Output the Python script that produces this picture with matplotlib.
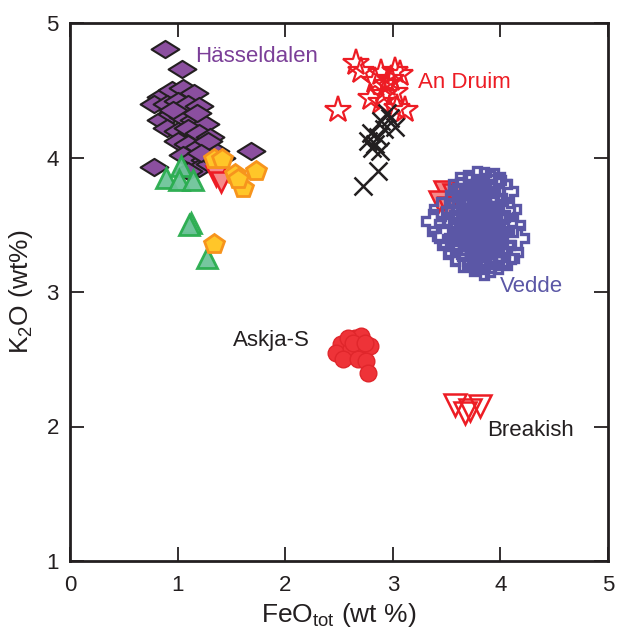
import matplotlib
matplotlib.use("Agg")
import matplotlib.pyplot as plt
from matplotlib.path import Path

plt.rcParams['font.family'] = ['Liberation Sans', 'DejaVu Sans']

# Hässeldalen (purple diamonds)
hass_feo = [0.88, 1.04, 0.85, 0.95, 1.05, 1.15, 0.78, 0.90, 1.00, 1.10, 1.20, 0.85, 0.95, 1.05,
            1.15, 1.25, 0.90, 1.00, 1.10, 1.20, 1.30, 1.00, 1.10, 1.20, 1.35, 1.05, 1.15, 1.25,
            1.40, 1.68, 0.78, 1.20, 1.30, 1.10, 0.96, 1.18, 1.28, 1.33, 1.22]
hass_k2o = [4.81, 4.66, 4.45, 4.50, 4.52, 4.48, 4.40, 4.40, 4.42, 4.40, 4.38, 4.28, 4.32, 4.30,
            4.28, 4.25, 4.22, 4.20, 4.22, 4.18, 4.15, 4.12, 4.10, 4.08, 4.05, 4.02, 4.00, 3.98,
            4.00, 4.05, 3.93, 3.92, 3.95, 3.90, 4.35, 4.33, 4.12, 4.00, 4.03]

# green triangles
grn_feo = [1.03, 0.89, 1.01, 1.14, 1.12, 1.11, 1.27]
grn_k2o = [3.94, 3.85, 3.83, 3.83, 3.51, 3.50, 3.25]

# red inverted triangles (filled) near Hässeldalen
rtri_h_feo = [1.36, 1.40]
rtri_h_k2o = [3.86, 3.82]

# orange pentagons
pent_feo = [1.34, 1.41, 1.53, 1.73, 1.61, 1.56, 1.34]
pent_k2o = [3.99, 3.99, 3.88, 3.90, 3.77, 3.84, 3.36]

# An Druim (red stars)
andr_feo = [2.66, 2.70, 2.49, 2.89, 3.02, 3.07, 2.83, 2.95, 2.80, 2.92, 3.02, 2.89, 3.11, 3.04, 2.98]
andr_k2o = [4.70, 4.64, 4.35, 4.63, 4.64, 4.62, 4.57, 4.55, 4.44, 4.47, 4.49, 4.41, 4.35, 4.37, 4.58]

# black crosses
blk_feo = [2.95, 3.02, 2.89, 2.80, 2.86, 2.81, 2.77, 2.92, 2.86, 2.72, 2.97, 2.88, 2.83]
blk_k2o = [4.33, 4.23, 4.27, 4.18, 4.15, 4.07, 4.12, 4.21, 3.90, 3.79, 4.29, 4.05, 4.10]

# red inverted triangles (filled) near Vedde
rtri_v_feo = [3.48, 3.43, 3.56, 3.86, 3.51]
rtri_v_k2o = [3.75, 3.68, 3.73, 3.69, 3.63]

# Vedde (blue hollow pluses)
vedde_feo = [3.37, 3.43, 3.45, 3.62, 3.62, 3.70, 3.78, 3.85, 3.90, 3.94, 4.00, 4.05, 4.08, 4.12,
             4.15, 4.10, 4.06, 3.98, 3.90, 3.85, 3.75, 3.65, 3.58, 3.52, 3.48, 3.60, 3.95,
             3.60, 3.65, 3.70, 3.75, 3.80, 3.85, 3.90, 3.62, 3.68, 3.72, 3.78, 3.83, 3.88, 3.92,
             3.96, 3.85, 3.80, 3.75, 3.70, 3.66, 3.58, 3.60, 3.64, 3.70, 3.76, 3.82, 3.86, 3.90,
             3.95, 4.00, 4.02, 3.98, 3.93, 3.88, 3.84, 3.78, 3.74, 3.72, 3.68, 3.64, 3.56, 3.80,
             3.88, 3.92, 4.02, 4.04, 3.82, 3.76, 3.70, 3.86, 3.80, 3.94, 3.60, 3.66, 3.92, 3.84,
             3.76, 3.73, 3.79, 3.87, 3.81, 3.77, 3.71, 3.89, 3.67, 3.63, 3.97, 3.83, 3.74]
vedde_k2o = [3.53, 3.45, 3.62, 3.76, 3.80, 3.82, 3.85, 3.84, 3.82, 3.83, 3.80, 3.75, 3.62, 3.50,
             3.40, 3.30, 3.25, 3.22, 3.20, 3.18, 3.21, 3.24, 3.28, 3.35, 3.42, 3.72, 3.70,
             3.60, 3.55, 3.50, 3.45, 3.40, 3.35, 3.30, 3.45, 3.40, 3.35, 3.30, 3.28, 3.45, 3.50,
             3.55, 3.60, 3.65, 3.68, 3.62, 3.66, 3.52, 3.38, 3.32, 3.28, 3.38, 3.48, 3.52, 3.58,
             3.42, 3.45, 3.35, 3.30, 3.38, 3.40, 3.43, 3.55, 3.58, 3.48, 3.52, 3.48, 3.60, 3.72,
             3.68, 3.65, 3.60, 3.52, 3.58, 3.62, 3.70, 3.25, 3.22, 3.26, 3.66, 3.72, 3.75, 3.75,
             3.75, 3.42, 3.46, 3.37, 3.33, 3.52, 3.56, 3.48, 3.44, 3.57, 3.48, 3.64, 3.31]

# Askja-S (red circles)
askja_feo = [2.52, 2.65, 2.70, 2.47, 2.61, 2.72, 2.79, 2.54, 2.68, 2.75, 2.77, 2.58, 2.63, 2.74]
askja_k2o = [2.61, 2.66, 2.67, 2.55, 2.58, 2.56, 2.60, 2.50, 2.50, 2.49, 2.40, 2.66, 2.62, 2.62]

# Breakish (red hollow inverted triangles)
brk_feo = [3.58, 3.67, 3.72, 3.81]
brk_k2o = [2.16, 2.10, 2.12, 2.15]

labels = ["Hässeldalen", "An Druim", "Vedde", "Askja-S", "Breakish"]
label_x = [1.16, 3.23, 4.00, 1.51, 3.88]
label_y = [4.75, 4.56, 3.04, 2.64, 1.97]
label_c = ["#7b3f98", "#ed1c24", "#5b57a6", "#231f20", "#231f20"]

wide_diamond = Path([(-1, 0), (0, 0.62), (1, 0), (0, -0.62), (-1, 0)],
                    [Path.MOVETO, Path.LINETO, Path.LINETO, Path.LINETO, Path.CLOSEPOLY])

fig = plt.figure(figsize=(6.19, 6.32), dpi=100)
ax = fig.add_axes([70/619, 1-561/632, 538/619, 538/632])

ax.plot(hass_feo, hass_k2o, ls='none', marker=wide_diamond, ms=20, mfc='#8b4f9f',
        mec='#231f20', mew=1.5, zorder=2)
ax.plot(grn_feo, grn_k2o, ls='none', marker='^', ms=15, mfc='#6fc49a', mec='#2aad4f',
        mew=2, alpha=0.95, zorder=3)
ax.plot(rtri_h_feo, rtri_h_k2o, ls='none', marker='v', ms=15, mfc='#f58a8a', mec='#ed1c24',
        mew=1.8, zorder=4)
ax.plot(pent_feo, pent_k2o, ls='none', marker='p', ms=15, mfc='#ffc629', mec='#f7941d',
        mew=2, zorder=5)
ax.plot(andr_feo, andr_k2o, ls='none', marker='*', ms=20, mfc='none', mec='#ed1c24',
        mew=1.6, zorder=4)
ax.plot(blk_feo, blk_k2o, ls='none', marker='x', ms=13, mec='#231f20', mew=1.8, zorder=5)
ax.plot(rtri_v_feo, rtri_v_k2o, ls='none', marker='v', ms=15, mfc='#f58a8a', mec='#ed1c24',
        mew=1.8, zorder=3.5)
ax.plot(vedde_feo, vedde_k2o, ls='none', marker='P', ms=16, mfc='none', mec='#5b57a6',
        mew=2.4, zorder=4)
ax.plot(askja_feo, askja_k2o, ls='none', marker='o', ms=12, mfc='#ee3338', mec='#e0262b',
        mew=1, zorder=4)
ax.plot(brk_feo, brk_k2o, ls='none', marker='v', ms=16, mfc='none', mec='#ed1c24',
        mew=1.8, zorder=4)

for t, x, y, c in zip(labels, label_x, label_y, label_c):
    ax.text(x, y, t, color=c, fontsize=16, ha='left', va='center', zorder=6)

ax.set_xlim(0, 5)
ax.set_ylim(1, 5)
ax.set_xticks([0, 1, 2, 3, 4, 5])
ax.set_yticks([1, 2, 3, 4, 5])
ax.tick_params(direction='in', length=10, width=1.3, labelsize=16, top=True, right=True,
               colors='#231f20')
ax.tick_params(axis='x', pad=10)
ax.tick_params(axis='y', pad=8)
for s in ax.spines.values():
    s.set_linewidth(2)
    s.set_color('#231f20')
ax.set_xlabel('FeO$_{\\mathregular{tot}}$ (wt %)', fontsize=19, color='#231f20', labelpad=4)
ax.set_ylabel('K$_{\\mathregular{2}}$O (wt%)', fontsize=19, color='#231f20', labelpad=8)

fig.savefig('out.png', dpi=100)
